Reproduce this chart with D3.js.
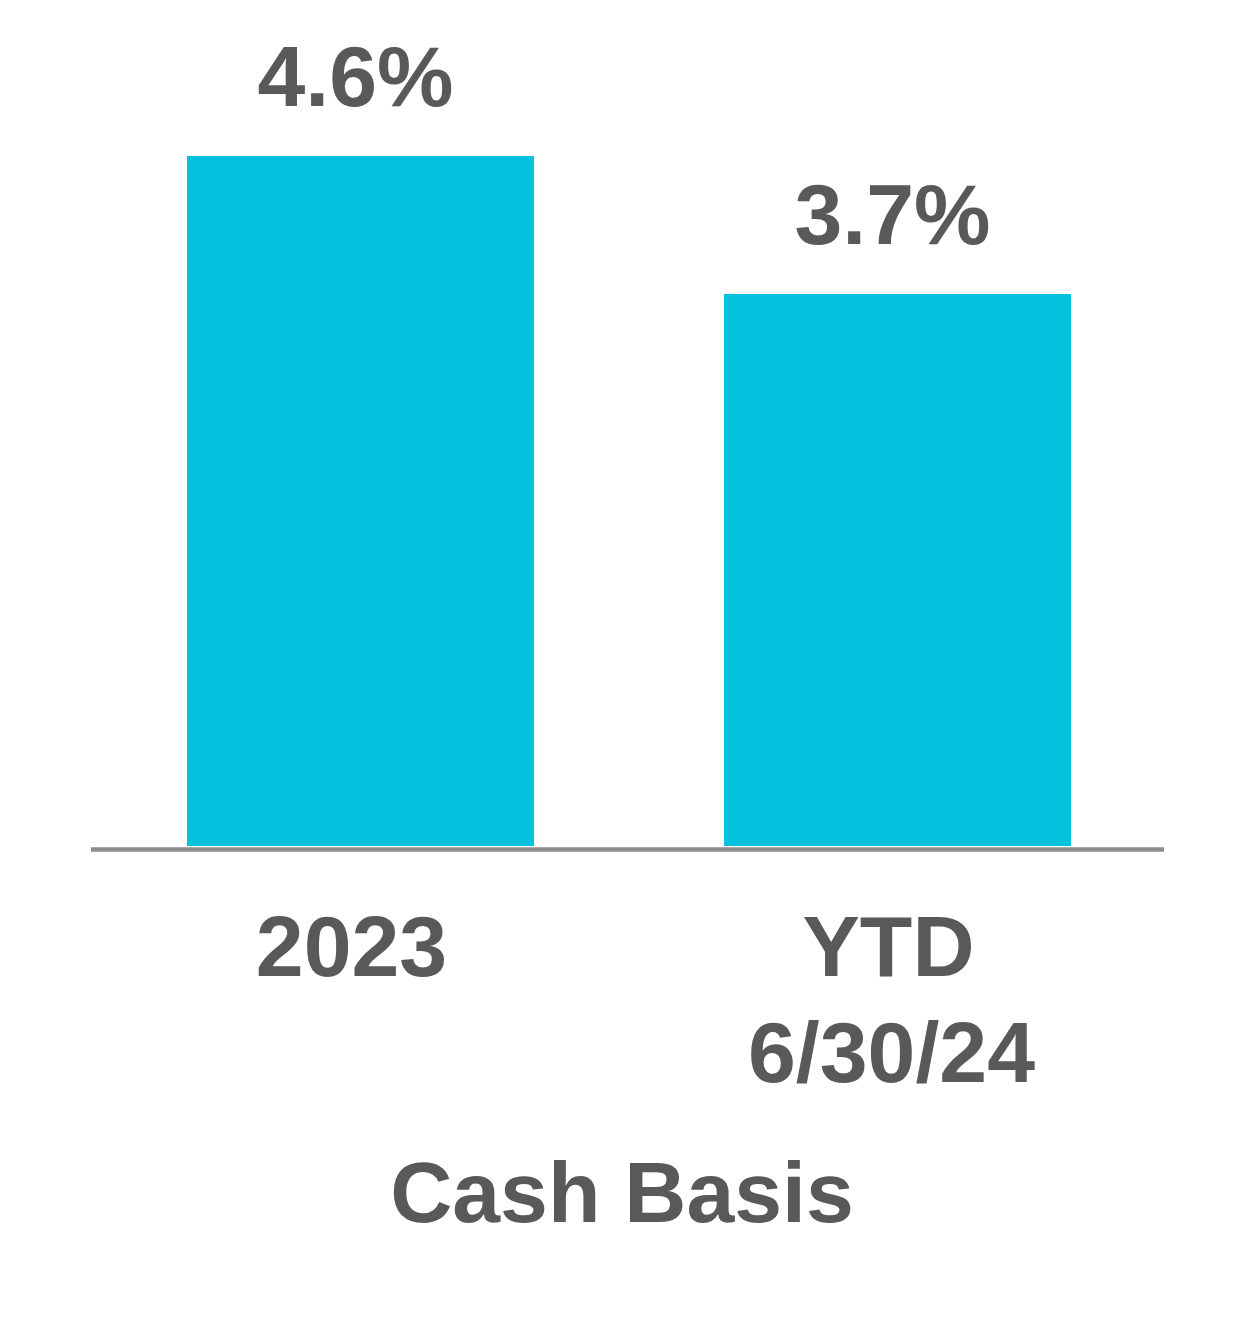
<!DOCTYPE html>
<html>
<head>
<meta charset="utf-8">
<script src="https://cdn.jsdelivr.net/npm/d3@7"></script>
<style>
  html, body { margin: 0; padding: 0; background: #ffffff; }
  svg { display: block; }
  text { font-family: "Liberation Sans", Arial, sans-serif; font-weight: bold; fill: #595959; }
</style>
</head>
<body>
<svg id="chart" width="1254" height="1326"></svg>
<script>
const categories = ["2023", "YTD\n6/30/24"];
const values = [4.6, 3.68];
const valueLabels = ["4.6%", "3.7%"];
const title = "Cash Basis";

const svg = d3.select("#chart");

const x = d3.scaleBand()
  .domain(categories)
  .range([92, 1166])
  .paddingInner(0.3538)
  .paddingOuter(0.1769);

const y = d3.scaleLinear()
  .domain([0, 5])
  .range([846, 96]);

// bars
svg.selectAll("rect.bar")
  .data(values)
  .enter()
  .append("rect")
  .attr("class", "bar")
  .attr("x", (d, i) => x(categories[i]))
  .attr("width", x.bandwidth())
  .attr("y", d => y(d))
  .attr("height", d => y(0) - y(d))
  .attr("fill", "#06C2DF");

// baseline axis
const axis = d3.axisBottom(x).tickSize(0).tickFormat("");
const ax = svg.append("g").attr("transform", `translate(0, ${y(0) + 3.5})`).call(axis);
ax.select(".domain").attr("stroke", "#8C8C8C").attr("stroke-width", 4.5).attr("d", "M91,0H1164");

// value labels
svg.selectAll("text.val")
  .data(values)
  .enter()
  .append("text")
  .attr("class", "val")
  .attr("x", (d, i) => x(categories[i]) + x.bandwidth() / 2 - 5)
  .attr("y", (d, i) => (i === 0 ? 106 : 244))
  .attr("text-anchor", "middle")
  .attr("font-size", 86)
  .text((d, i) => valueLabels[i]);

// category labels
categories.forEach((c, i) => {
  const lines = c.split("\n");
  const t = svg.append("text")
    .attr("text-anchor", "middle")
    .attr("font-size", 86);
  lines.forEach((ln, j) => {
    t.append("tspan")
      .attr("x", x(c) + x.bandwidth() / 2 - (j === 0 ? 9 : 6))
      .attr("y", 976 + j * 106)
      .text(ln);
  });
});

// title
svg.append("text")
  .attr("x", 622)
  .attr("y", 1222)
  .attr("text-anchor", "middle")
  .attr("font-size", 86)
  .text(title);
</script>
</body>
</html>
